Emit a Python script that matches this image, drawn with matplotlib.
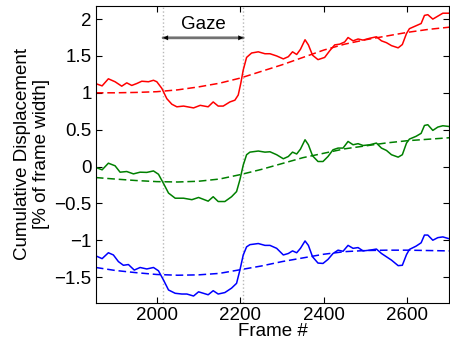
import numpy as np
import matplotlib
matplotlib.use("Agg")
import matplotlib.pyplot as plt

plt.rcParams['font.family'] = ['Liberation Sans', 'DejaVu Sans']

red_x = [1853, 1869, 1884, 1900, 1916, 1928, 1940, 1952, 1964, 1980, 1992, 2000, 2012, 2024, 2036, 2048,
         2064, 2088, 2104, 2123, 2135, 2147, 2159, 2175, 2187, 2195, 2201, 2207, 2215, 2227, 2243, 2259,
         2271, 2287, 2303, 2315, 2325, 2335, 2344, 2355, 2363, 2373, 2386, 2402, 2414, 2426, 2438, 2450,
         2458, 2470, 2482, 2494, 2510, 2526, 2538, 2550, 2562, 2578, 2588, 2598, 2605, 2621, 2633, 2641,
         2649, 2661, 2673, 2685, 2700]
red_y = [1.126, 1.094, 1.19, 1.15, 1.09, 1.135, 1.10, 1.126, 1.157, 1.15, 1.17, 1.15, 1.06, 0.92, 0.845, 0.81,
         0.82, 0.795, 0.83, 0.81, 0.876, 0.82, 0.82, 0.876, 0.90, 0.97, 1.126, 1.31, 1.48, 1.54, 1.556, 1.53,
         1.53, 1.50, 1.46, 1.49, 1.556, 1.52, 1.59, 1.72, 1.65, 1.51, 1.45, 1.48, 1.57, 1.65, 1.66, 1.69,
         1.75, 1.705, 1.73, 1.715, 1.74, 1.76, 1.705, 1.68, 1.64, 1.61, 1.655, 1.805, 1.87, 1.91, 1.94, 2.05,
         2.06, 2.00, 2.04, 2.08, 2.08]

green_x = [1853, 1869, 1884, 1900, 1912, 1928, 1944, 1960, 1976, 1992, 2004, 2016, 2028, 2044, 2064, 2084,
           2100, 2123, 2135, 2147, 2163, 2179, 2191, 2199, 2207, 2215, 2223, 2243, 2259, 2271, 2287, 2303,
           2315, 2325, 2335, 2344, 2355, 2363, 2373, 2386, 2398, 2410, 2422, 2434, 2446, 2458, 2470, 2482,
           2494, 2510, 2526, 2538, 2550, 2562, 2578, 2588, 2598, 2605, 2621, 2633, 2641, 2649, 2661, 2673,
           2685, 2700]
green_y = [-0.01, -0.045, 0.045, 0.01, -0.077, -0.068, -0.10, -0.077, -0.08, -0.06, -0.105, -0.23, -0.36, -0.43, -0.43, -0.45,
           -0.42, -0.47, -0.41, -0.475, -0.475, -0.41, -0.34, -0.18, 0.02, 0.16, 0.195, 0.21, 0.195, 0.20, 0.16, 0.105,
           0.136, 0.195, 0.17, 0.236, 0.363, 0.295, 0.145, 0.068, 0.068, 0.136, 0.227, 0.25, 0.25, 0.34, 0.295, 0.31,
           0.285, 0.295, 0.318, 0.25, 0.218, 0.16, 0.127, 0.16, 0.318, 0.372, 0.41, 0.45, 0.557, 0.567, 0.49, 0.535,
           0.553, 0.543]

blue_x = [1853, 1869, 1884, 1896, 1908, 1920, 1932, 1946, 1960, 1976, 1992, 2004, 2016, 2028, 2044, 2060,
          2072, 2088, 2100, 2123, 2135, 2147, 2163, 2179, 2191, 2199, 2207, 2215, 2223, 2243, 2259, 2271,
          2287, 2303, 2315, 2325, 2335, 2344, 2355, 2363, 2373, 2386, 2398, 2410, 2422, 2434, 2446, 2458,
          2470, 2482, 2494, 2510, 2526, 2538, 2550, 2562, 2578, 2588, 2598, 2605, 2621, 2633, 2641, 2649,
          2661, 2673, 2685, 2700]
blue_y = [-1.21, -1.25, -1.17, -1.20, -1.29, -1.34, -1.33, -1.405, -1.37, -1.39, -1.37, -1.415, -1.54, -1.675, -1.72, -1.73,
          -1.73, -1.757, -1.70, -1.74, -1.685, -1.73, -1.71, -1.65, -1.585, -1.405, -1.20, -1.09, -1.06, -1.045, -1.07, -1.07,
          -1.11, -1.20, -1.18, -1.145, -1.17, -1.11, -1.01, -1.07, -1.225, -1.31, -1.315, -1.26, -1.18, -1.135, -1.15, -1.07,
          -1.11, -1.10, -1.145, -1.135, -1.12, -1.18, -1.225, -1.27, -1.345, -1.34, -1.195, -1.125, -1.08, -1.035, -0.93, -0.93,
          -1.00, -0.965, -0.955, -0.98]

trend_x = [1854, 1900, 1950, 2000, 2050, 2100, 2150, 2200, 2250, 2300, 2350, 2400, 2450, 2500, 2550, 2600, 2650, 2700]
red_trend = [1.00, 1.00, 1.005, 1.015, 1.04, 1.08, 1.13, 1.20, 1.29, 1.38, 1.48, 1.58, 1.66, 1.72, 1.77, 1.82, 1.86, 1.89]
green_trend = [-0.15, -0.17, -0.19, -0.205, -0.21, -0.20, -0.17, -0.11, -0.04, 0.04, 0.12, 0.18, 0.24, 0.28, 0.32, 0.35, 0.37, 0.39]
blue_trend = [-1.37, -1.41, -1.44, -1.465, -1.475, -1.47, -1.45, -1.40, -1.35, -1.29, -1.24, -1.19, -1.155, -1.14, -1.135, -1.135, -1.14, -1.145]

x_ticks = [2000, 2200, 2400, 2600]
y_ticks = [-1.5, -1, -0.5, 0, 0.5, 1, 1.5, 2]
y_tick_labels = ['\u22121.5', '\u22121', '\u22120.5', '0', '0.5', '1', '1.5', '2']

gaze_start, gaze_end = 2015, 2207

FS = 13.5
fig = plt.figure(figsize=(4.5, 3.43), dpi=100)
ax = fig.add_axes([0.213, 0.117, 0.785, 0.866])

ax.axvline(gaze_start, color='0.72', linestyle=':', linewidth=1.0)
ax.axvline(gaze_end, color='0.72', linestyle=':', linewidth=1.0)

GREEN = (0.0, 0.5, 0.0)
DASH = (5, 2.5)
ax.plot(red_x, red_y, color='red', linewidth=1.1)
ax.plot(trend_x, red_trend, color='red', linewidth=1.1, linestyle='--', dashes=DASH)
ax.plot(green_x, green_y, color=GREEN, linewidth=1.1)
ax.plot(trend_x, green_trend, color=GREEN, linewidth=1.1, linestyle='--', dashes=DASH)
ax.plot(blue_x, blue_y, color='blue', linewidth=1.1)
ax.plot(trend_x, blue_trend, color='blue', linewidth=1.1, linestyle='--', dashes=DASH)

# arrow: gray shaft with black heads
ax.annotate('', xy=(gaze_start, 1.746), xytext=(gaze_end, 1.746),
            arrowprops=dict(arrowstyle='-', color='0.45', lw=2.0, shrinkA=0, shrinkB=0))
ax.annotate('', xy=(gaze_start, 1.746), xytext=(gaze_end, 1.746),
            arrowprops=dict(arrowstyle='<|-|>', color='black', lw=0.01, mutation_scale=9,
                            shrinkA=0, shrinkB=0))
ax.text((gaze_start + gaze_end) / 2, 1.925, 'Gaze', ha='center', va='center', fontsize=FS)

ax.set_xlim(1854, 2700)
ax.set_ylim(-1.85, 2.18)
ax.set_xticks(x_ticks)
ax.set_yticks(y_ticks)
ax.set_yticklabels(y_tick_labels)
ax.tick_params(direction='in', top=True, right=True, labelsize=FS, length=4, width=0.8, pad=3)
for s in ax.spines.values():
    s.set_linewidth(0.8)
ax.set_xlabel('Frame #', fontsize=FS, labelpad=-1)
ax.set_ylabel('Cumulative Displacement\n[% of frame width]', fontsize=FS, labelpad=3, linespacing=1.2)

fig.savefig('out.png', dpi=100)
